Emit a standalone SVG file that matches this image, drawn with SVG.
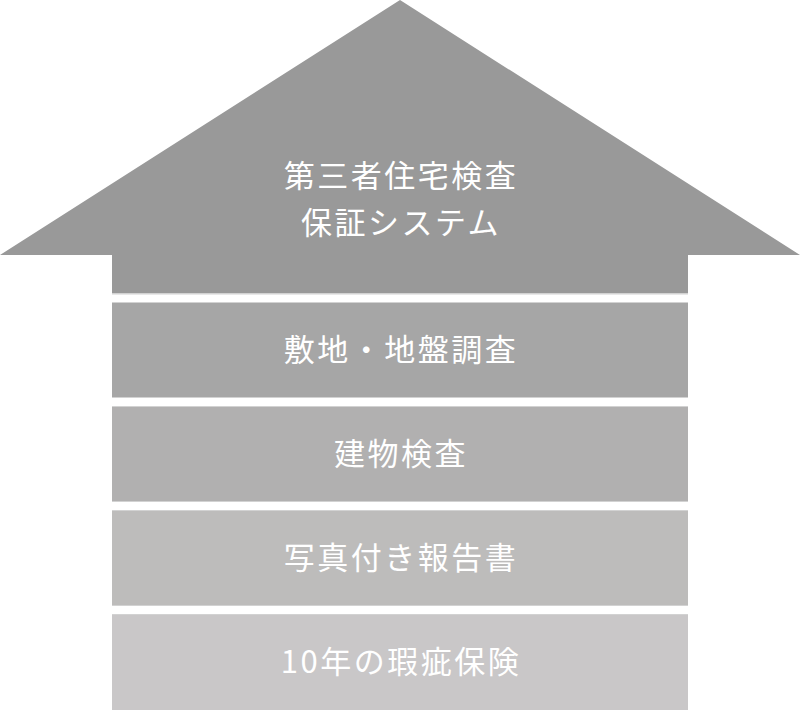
<svg xmlns="http://www.w3.org/2000/svg" width="800" height="711" viewBox="0 0 800 711">
<style>
.t{font-family:"Noto Sans CJK JP","Noto Sans CJK SC",sans-serif;font-size:31px;fill:#ffffff;text-anchor:middle;letter-spacing:2.5px}
.edge{fill:#d2d2d2}
</style>
<rect width="800" height="711" fill="#ffffff"/>
<g id="roof">
<polygon points="400,0 800,255 688,255 688,294 112,294 112,255 0,255" fill="#999999"/>
<rect class="edge" x="112" y="293" width="576" height="1.5"/>
<text class="t" x="401" y="187">第三者住宅検査</text>
<text class="t" x="401" y="234">保証システム</text>
</g>
<g id="band1">
<rect x="112" y="302" width="576" height="96" fill="#a6a6a6"/>
<rect class="edge" x="112" y="302" width="576" height="1"/>
<rect class="edge" x="112" y="397" width="576" height="1"/>
<text class="t" x="401" y="361">敷地・地盤調査</text>
</g>
<g id="band2">
<rect x="112" y="406" width="576" height="96" fill="#b1b0b0"/>
<rect class="edge" x="112" y="406" width="576" height="1"/>
<rect class="edge" x="112" y="501" width="576" height="1"/>
<text class="t" x="401" y="465">建物検査</text>
</g>
<g id="band3">
<rect x="112" y="510" width="576" height="96" fill="#bdbcbb"/>
<rect class="edge" x="112" y="510" width="576" height="1"/>
<rect class="edge" x="112" y="605" width="576" height="1"/>
<text class="t" x="401" y="569">写真付き報告書</text>
</g>
<g id="band4">
<rect x="112" y="614" width="576" height="96" fill="#c9c7c8"/>
<rect class="edge" x="112" y="614" width="576" height="1"/>
<text class="t" x="401" y="673">10年の瑕疵保険</text>
</g>
<g id="connectors"/>
</svg>
